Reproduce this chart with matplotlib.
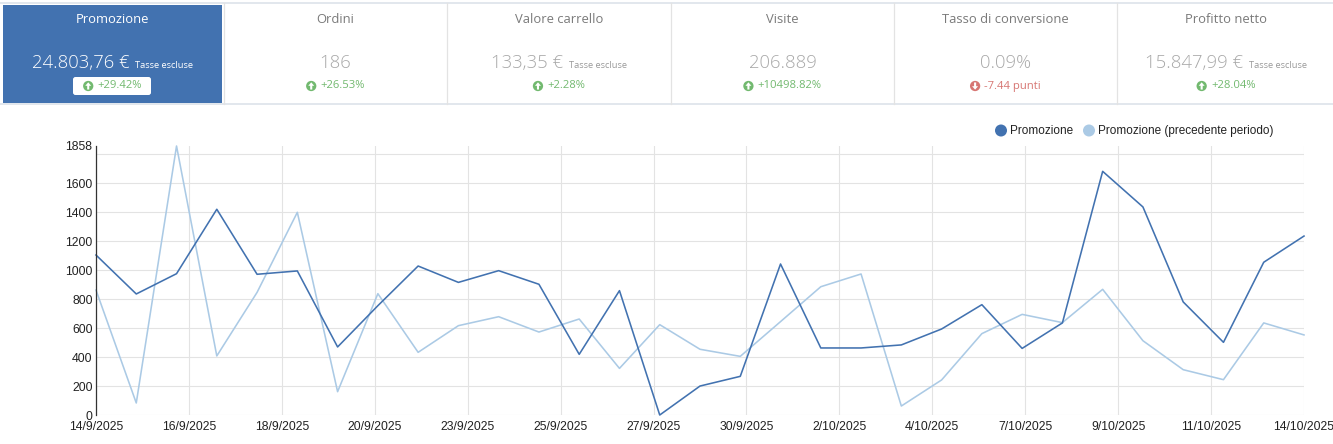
import datetime as dt
import numpy as np
import matplotlib
matplotlib.use('Agg')
import matplotlib.pyplot as plt
import matplotlib.dates as mdates
from matplotlib.patches import Rectangle, Circle, Polygon, FancyBboxPatch
from matplotlib.offsetbox import TextArea, HPacker, DrawingArea, AnnotationBbox

# dati KPI
kpi_titles = ['Promozione', 'Ordini', 'Valore carrello', 'Visite', 'Tasso di conversione', 'Profitto netto']
kpi_values = ['24.803,76 €', '186', '133,35 €', '206.889', '0.09%', '15.847,99 €']
kpi_tax = [True, False, True, False, False, True]
kpi_changes = ['+29.42%', '+26.53%', '+2.28%', '+10498.82%', '-7.44 punti', '+28.04%']
kpi_up = [True, True, True, True, False, True]

# serie giornaliere 14/9/2025 - 14/10/2025
series_names = ['Promozione', 'Promozione (precedente periodo)']
promo = [1105, 836, 976, 1421, 972, 995, 470, 755, 1029, 916, 997, 903, 419, 859, 0,
         200, 267, 1043, 463, 463, 484, 594, 762, 460, 636, 1683, 1437, 781, 502, 1055, 1236]
prev = [863, 83, 1858, 408, 847, 1400, 161, 838, 433, 617, 679, 573, 663, 322, 624,
        454, 405, 645, 886, 974, 62, 242, 562, 695, 638, 868, 513, 313, 244, 636, 553]
start = dt.datetime(2025, 9, 14)
dates = [start + dt.timedelta(days=i) for i in range(len(promo))]
y_max = 1858

DARK = '#4272b0'
LIGHT = '#abcae5'
GREEN = '#72b96f'
RED = '#d77673'
GRID = '#e3e3e3'

W, H = 1333, 444
fig = plt.figure(figsize=(W / 100, H / 100), dpi=100)

# livello di sfondo in pixel
bg = fig.add_axes([0, 0, 1, 1])
bg.set_xlim(0, W)
bg.set_ylim(H, 0)
bg.axis('off')

# cornice riquadri KPI
bg.plot([0, W], [3, 3], color='#dde3ea', lw=1.2)
bg.plot([0, W], [104.5, 104.5], color='#dde3ea', lw=1.2)
for xs in [224, 447, 671, 894, 1117]:
    bg.plot([xs, xs], [3, 104.5], color='#e3e3e3', lw=0.9)
bg.add_patch(Rectangle((3, 5), 219, 98, fc='#4272b0', ec='none'))
# pill bianca del primo riquadro
bg.add_patch(FancyBboxPatch((74, 78), 76, 16, boxstyle='round,pad=1,rounding_size=2.5',
                            fc='white', ec='none', zorder=2))

centers = [112.5, 335.5, 559, 782.5, 1005.5, 1226]
for i, cx in enumerate(centers):
    first = i == 0
    tcol = 'white' if first else '#7a7a7a'
    vcol = 'white' if first else '#a8a8a8'
    scol = 'white' if first else '#9a9a9a'
    bg.text(cx, 19.5, kpi_titles[i], ha='center', va='center', fontsize=9.4,
            family='Open Sans', color=tcol)
    kids = [TextArea(kpi_values[i], textprops=dict(fontsize=13.3, family='Open Sans',
                                                   fontweight='light', color=vcol))]
    if kpi_tax[i]:
        kids.append(TextArea('Tasse escluse', textprops=dict(fontsize=6.7, family='Open Sans',
                                                             color=scol)))
    pack = HPacker(children=kids, align='baseline', pad=0, sep=4)
    bg.add_artist(AnnotationBbox(pack, (cx, 62.5), xycoords='data', frameon=False,
                                 box_alignment=(0.5, 0.5), pad=0))

    col = GREEN if kpi_up[i] else RED
    da = DrawingArea(7.5, 7.5, 0, 0)
    da.add_artist(Circle((3.75, 3.75), 3.7, fc=col, ec='none'))
    if kpi_up[i]:
        arr = [(3.75, 6.4), (1.6, 3.9), (3.0, 3.9), (3.0, 1.2), (4.5, 1.2), (4.5, 3.9), (5.9, 3.9)]
    else:
        arr = [(3.75, 1.1), (1.6, 3.6), (3.0, 3.6), (3.0, 6.3), (4.5, 6.3), (4.5, 3.6), (5.9, 3.6)]
    da.add_artist(Polygon(arr, closed=True, fc='white', ec='none'))
    ta = TextArea(kpi_changes[i], textprops=dict(fontsize=8.1, family='Open Sans', color=col))
    cp = HPacker(children=[da, ta], align='center', pad=0, sep=3)
    ab = AnnotationBbox(cp, (cx, 86), xycoords='data', frameon=False,
                        box_alignment=(0.5, 0.5), pad=0, zorder=3)
    bg.add_artist(ab)

# grafico
ax = fig.add_axes([96 / W, (H - 415) / H, (1304 - 96) / W, (415 - 146) / H])
xn = mdates.date2num(dates)
ax.plot(xn, prev, color=LIGHT, lw=1.15, clip_on=False, zorder=3)
ax.plot(xn, promo, color=DARK, lw=1.15, clip_on=False, zorder=4)

ax.set_xlim(xn[0], xn[-1])
ax.set_ylim(0, y_max)

n_int = 13
xt = [xn[0] + (xn[-1] - xn[0]) * k / n_int for k in range(n_int + 1)]
xlabels = []
for v in xt:
    d = mdates.num2date(v + 1e-6)
    xlabels.append(f'{d.day}/{d.month}/{d.year}')
ax.set_xticks(xt)
ax.set_xticklabels(xlabels)

ylab = list(range(0, 1601, 200)) + [y_max]
ax.set_yticks(ylab)
ax.set_yticklabels([str(v) for v in ylab])

ax.grid(False)
for v in range(0, 1801, 200):
    ax.axhline(v, color=GRID, lw=0.8, zorder=1)
for v in xt:
    ax.axvline(v, color=GRID, lw=0.8, zorder=1)

for s in ['top', 'right', 'bottom']:
    ax.spines[s].set_visible(False)
ax.spines['left'].set_color('#333333')
ax.spines['left'].set_linewidth(0.9)
ax.spines['left'].set_zorder(5)
ax.tick_params(which='both', length=0, labelsize=8.8, labelcolor='#222222')
ax.tick_params(axis='y', pad=2.5)
ax.tick_params(axis='x', pad=4)
for t in ax.get_xticklabels() + ax.get_yticklabels():
    t.set_family('Liberation Sans')

# legenda
lx = [1001, 1089]
for name, c, x0 in zip(series_names, [DARK, LIGHT], lx):
    bg.add_patch(Circle((x0, 130.5), 6, fc=c, ec='none'))
    bg.text(x0 + 9, 131, name, ha='left', va='center', fontsize=8.5,
            family='Liberation Sans', color='#222222')

fig.savefig('out.png', dpi=100)
